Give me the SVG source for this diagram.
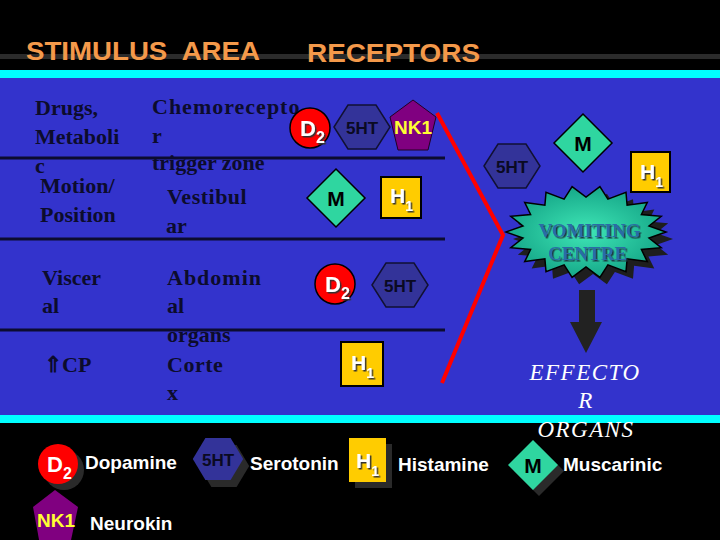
<svg xmlns="http://www.w3.org/2000/svg" xmlns:xlink="http://www.w3.org/1999/xlink" width="720" height="540" viewBox="0 0 720 540">
<style>
.hdr{font-family:"Liberation Sans",Arial,sans-serif;font-weight:bold;fill:#F4994A;font-size:26px}
.lt{font-family:"Liberation Serif","Times New Roman",serif;font-weight:bold;fill:#0C0C2C;font-size:22px}
.sans{font-family:"Liberation Sans",Arial,sans-serif;font-weight:bold}
.lg{font-family:"Liberation Sans",Arial,sans-serif;font-weight:bold;fill:#FFFFFF;font-size:19px}
.row{stroke:#0C0C30;stroke-width:3}
.circ{fill:#FF0000;stroke:#000;stroke-width:1.5}
.hexf{fill:#333399;stroke:#111133;stroke-width:1.5}
.ht{fill:#0A0A22;font-size:17px}
.pent{fill:#800080;stroke:#220022;stroke-width:1}
.dia{fill:#2FD6A0;stroke:#000;stroke-width:1.5}
.sq{fill:#FFCC00;stroke:#000;stroke-width:2}
.shadow{fill:#2A2A2A}
.wt{fill:#FFFFFF}
.eff{font-family:"Liberation Serif","Times New Roman",serif;font-style:italic;fill:#FFFFFF;font-size:23px;letter-spacing:1.5px}
.vc{font-family:"Liberation Serif","Times New Roman",serif;font-weight:bold;font-size:19px;fill:#2A6CA6}
</style>
<defs>
<polygon id="hex" points="-28,0 -14,-22 14,-22 28,0 14,22 -14,22"/>
<polygon id="pen" points="0,-25 23,-8 15,25 -15,25 -23,-8"/>
<polygon id="dmd" points="0,-29 29,0 0,29 -29,0"/>
<polygon id="star" points="666,232 649,238.1 661.2,247.7 641.4,249.5 647.3,261.6 627.1,258.8 626,271.8 607.9,264.9 599.9,277.3 586,267 572.1,277.3 564.1,264.9 546,271.8 544.9,258.8 524.7,261.6 530.6,249.5 510.8,247.7 523,238.1 506,232 523,225.9 510.8,216.3 530.6,214.5 524.7,202.4 544.9,205.2 546,192.2 564.1,199.1 572.1,186.7 586,197 599.9,186.7 607.9,199.1 626,192.2 627.1,205.2 647.3,202.4 641.4,214.5 661.2,216.3 649,225.9"/>
<radialGradient id="starg" cx="0.5" cy="0.5" r="0.6">
<stop offset="0" stop-color="#3FE6B6"/>
<stop offset="1" stop-color="#0E9C80"/>
</radialGradient>
<filter id="ts" x="-20%" y="-20%" width="150%" height="150%">
<feDropShadow dx="1.5" dy="1.5" stdDeviation="0" flood-color="#333333"/>
</filter>
<filter id="vs" x="-20%" y="-20%" width="150%" height="150%">
<feDropShadow dx="1.5" dy="1.5" stdDeviation="0" flood-color="#1E3A44"/>
</filter>
</defs>
<rect x="0" y="0" width="720" height="540" fill="#000000"/>
<line x1="0" y1="56.5" x2="720" y2="56.5" stroke="#2B2B2B" stroke-width="5"/>
<rect x="0" y="70" width="720" height="8" fill="#00FFFF"/>
<rect x="0" y="78" width="720" height="337" fill="#3333CC"/>
<rect x="0" y="415" width="720" height="8" fill="#00FFFF"/>

<g id="header">
<text class="hdr" x="26" y="60" style="white-space:pre" textLength="234" lengthAdjust="spacingAndGlyphs">STIMULUS  AREA</text>
<text class="hdr" x="307" y="62" textLength="173" lengthAdjust="spacingAndGlyphs">RECEPTORS</text>
</g>

<g id="row-lines">
<line class="row" x1="0" y1="158" x2="445" y2="158"/>
<line class="row" x1="0" y1="239" x2="445" y2="239"/>
<line class="row" x1="0" y1="330" x2="445" y2="330"/>
</g>

<g id="stimuli">
<text class="lt" x="35" y="115">Drugs,</text>
<text class="lt" x="35" y="144">Metaboli</text>
<text class="lt" x="35" y="173">c</text>
<text class="lt" x="40" y="193">Motion/</text>
<text class="lt" x="40" y="222">Position</text>
<text class="lt" x="42" y="285">Viscer</text>
<text class="lt" x="42" y="313">al</text>
<text class="lt" x="44" y="372">⇑CP</text>
</g>

<g id="areas">
<text class="lt" x="152" y="114" letter-spacing="1">Chemorecepto</text>
<text class="lt" x="152" y="143">r</text>
<text class="lt" x="152" y="170">trigger zone</text>
<text class="lt" x="167" y="204" letter-spacing="0.5">Vestibul</text>
<text class="lt" x="166" y="233">ar</text>
<text class="lt" x="167" y="285" letter-spacing="1">Abdomin</text>
<text class="lt" x="167" y="313">al</text>
<text class="lt" x="167" y="342">organs</text>
<text class="lt" x="167" y="372" letter-spacing="0.5">Corte</text>
<text class="lt" x="167" y="400">x</text>
</g>

<g id="connectors">
<polyline points="437,113 503,235 442,383" fill="none" stroke="#FF0000" stroke-width="4" stroke-linejoin="miter"/>
<polygon points="579,290 595,290 595,322 602,322 586,353 570,322 579,322" fill="#222222"/>
</g>

<g id="r1-d2">
<circle class="circ" cx="310" cy="128" r="20"/>
<text class="sans wt" x="300" y="136" font-size="22" filter="url(#ts)">D<tspan font-size="16" dy="7">2</tspan></text>
</g>
<g id="r1-5ht">
<use xlink:href="#hex" x="362" y="127" class="hexf"/>
<text class="sans ht" x="362" y="134" text-anchor="middle">5HT</text>
</g>
<g id="r1-nk1">
<use xlink:href="#pen" x="413" y="125" class="pent"/>
<text class="sans" x="413" y="134" font-size="19" fill="#FFFF33" text-anchor="middle">NK1</text>
</g>
<g id="r2-m">
<use xlink:href="#dmd" x="336" y="198" class="dia"/>
<text class="sans" x="336" y="206" font-size="21" fill="#000" text-anchor="middle">M</text>
</g>
<g id="r2-h1">
<rect class="sq" x="381" y="177" width="40" height="41"/>
<text class="sans wt" x="390" y="203" font-size="21" filter="url(#ts)">H<tspan font-size="14" dy="8">1</tspan></text>
</g>
<g id="r3-d2">
<circle class="circ" cx="335" cy="284" r="20"/>
<text class="sans wt" x="325" y="292" font-size="22" filter="url(#ts)">D<tspan font-size="16" dy="7">2</tspan></text>
</g>
<g id="r3-5ht">
<use xlink:href="#hex" x="400" y="285" class="hexf"/>
<text class="sans ht" x="400" y="292" text-anchor="middle">5HT</text>
</g>
<g id="r4-h1">
<rect class="sq" x="341" y="342" width="42" height="44"/>
<text class="sans wt" x="351" y="370" font-size="21" filter="url(#ts)">H<tspan font-size="14" dy="8">1</tspan></text>
</g>

<g id="vc-5ht">
<use xlink:href="#hex" x="512" y="166" class="hexf"/>
<text class="sans ht" x="512" y="173" text-anchor="middle">5HT</text>
</g>
<g id="vc-m">
<use xlink:href="#dmd" x="583" y="143" class="dia"/>
<text class="sans" x="583" y="151" font-size="21" fill="#000" text-anchor="middle">M</text>
</g>
<g id="vc-h1">
<rect class="sq" x="631" y="152" width="39" height="40"/>
<text class="sans wt" x="640" y="179" font-size="21" filter="url(#ts)">H<tspan font-size="14" dy="8">1</tspan></text>
</g>

<g id="vomiting-centre">
<use xlink:href="#star" transform="translate(7,7)" fill="#1E1E1E"/>
<use xlink:href="#star" fill="url(#starg)" stroke="#000" stroke-width="1.5"/>
<text class="vc" x="589.5" y="237" text-anchor="middle" filter="url(#vs)">VOMITING</text>
<text class="vc" x="587.5" y="260" text-anchor="middle" filter="url(#vs)">CENTRE</text>
</g>

<g id="effector">
<text class="eff" x="585" y="380" text-anchor="middle">EFFECTO</text>
<text class="eff" x="586" y="408" text-anchor="middle">R</text>
<text class="eff" x="586" y="437" text-anchor="middle">ORGANS</text>
</g>

<g id="legend-d2">
<circle class="shadow" cx="64" cy="470" r="20"/>
<circle cx="58" cy="464" r="20" fill="#FF0000"/>
<text class="sans wt" x="47" y="472" font-size="22">D<tspan font-size="16" dy="7">2</tspan></text>
<text class="lg" x="85" y="469">Dopamine</text>
</g>
<g id="legend-5ht">
<use xlink:href="#hex" transform="translate(224,466) scale(0.9,0.95)" class="shadow"/>
<use xlink:href="#hex" transform="translate(218,459) scale(0.9,0.95)" fill="#333399"/>
<text class="sans ht" x="218" y="466" text-anchor="middle">5HT</text>
<text class="lg" x="250" y="470">Serotonin</text>
</g>
<g id="legend-h1">
<rect class="shadow" x="355" y="444" width="37" height="44"/>
<rect x="349" y="438" width="37" height="44" fill="#FFCC00"/>
<text class="sans wt" x="356" y="468" font-size="21" filter="url(#ts)">H<tspan font-size="14" dy="8">1</tspan></text>
<text class="lg" x="398" y="471">Histamine</text>
</g>
<g id="legend-m">
<polygon class="shadow" points="539,446 564,471 539,496 514,471"/>
<polygon points="533,440 558,465 533,490 508,465" fill="#2FD6A0"/>
<text class="sans" x="533" y="473" font-size="21" fill="#000" text-anchor="middle">M</text>
<text class="lg" x="563" y="471">Muscarinic</text>
</g>
<g id="legend-nk1">
<polygon points="55,490 78,507 70,545 40,545 33,507" fill="#800080"/>
<text class="sans" x="56" y="527" font-size="19" fill="#FFFF33" text-anchor="middle">NK1</text>
<text class="lg" x="90" y="530">Neurokin</text>
</g>
</svg>
